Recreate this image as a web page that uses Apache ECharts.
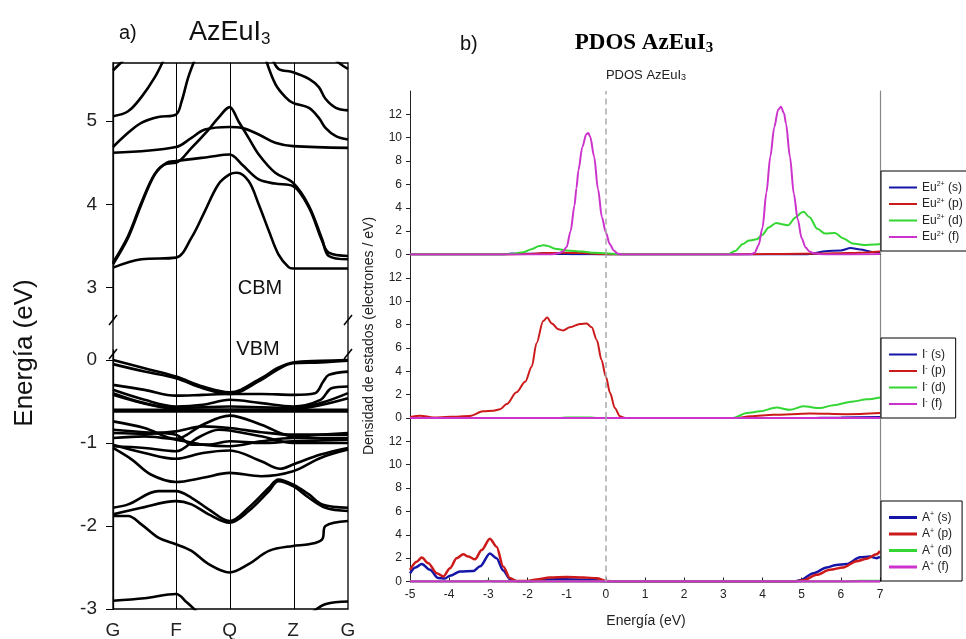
<!DOCTYPE html>
<html>
<head>
<meta charset="utf-8">
<script src="https://cdn.jsdelivr.net/npm/echarts@6/dist/echarts.min.js"></script>
<style>html,body{margin:0;padding:0;background:#fff;}#c{width:966px;height:639px;}</style>
</head>
<body>
<div id="c"></div>
<script>
// ---------- Band structure (left) ----------
const kNodes = [0, 0.268, 0.496, 0.766, 1];
const kLabels = ['G', 'F', 'Q', 'Z', 'G'];
const upperTicks = [3, 4, 5];
const lowerTicks = [-3, -2, -1, 0];
const upperRange = [2.61, 5.70];
const lowerRange = [-3, 0.12];

// [t, E] with t = path parameter (0=G,1=F,2=Q,3=Z,4=G)
const bandU1 = [[0,3.24],[0.45,3.34],[1,3.36],[1.29,3.60],[1.54,3.92],[1.79,4.24],[2,4.36],[2.116,4.38],[2.30,4.28],[2.46,4.0],[2.62,3.68],[2.77,3.40],[2.93,3.245],[3,3.23],[4,3.23]];
const bandU2 = [[0,3.28],[0.24,3.60],[0.45,4.0],[0.665,4.36],[0.85,4.50],[1,4.52],[1.61,4.57],[2,4.60],[2.195,4.48],[2.46,4.30],[2.72,4.25],[3,4.22],[3.29,3.96],[3.53,3.56],[3.65,3.42],[4,3.38]];
const bandU3 = [[0,3.30],[0.24,3.62],[0.45,4.02],[0.665,4.37],[0.85,4.49],[1,4.50],[1.29,4.68],[1.61,4.90],[1.79,5.04],[2,5.17],[2.14,5.0],[2.30,4.80],[2.46,4.60],[2.72,4.38],[3,4.26],[3.29,3.98],[3.53,3.58],[3.65,3.38],[4,3.34]];
const bandU4 = [[0,4.62],[1,4.69],[1.29,4.80],[1.54,4.90],[2,4.93],[2.195,4.92],[2.46,4.84],[2.72,4.74],[3,4.70],[4,4.68]];
const bandU5 = [[0,4.69],[0.24,4.86],[0.45,4.98],[0.72,5.05],[1,5.08],[1.106,5.24],[1.23,5.53],[1.37,5.77]];
const bandU6 = [[0,5.61],[0.08,5.67],[0.19,5.75]];
const bandU7 = [[0,5.06],[0.24,5.12],[0.45,5.29],[0.665,5.53],[0.80,5.73]];
const bandU8 = [[2.67,5.77],[2.77,5.63],[3,5.59],[3.29,5.51],[3.47,5.41],[3.59,5.27],[3.78,5.16],[4,5.13]];
const bandU9 = [[2.56,5.77],[2.72,5.45],[2.88,5.29],[3,5.22],[3.29,5.16],[3.47,5.04],[3.59,4.92],[3.78,4.82],[4,4.78]];
const bandU10 = [[3.78,5.73],[3.90,5.67],[4,5.63]];

const bandL1 = [[0,0],[0.5,-0.10],[1,-0.20],[1.5,-0.32],[2,-0.39],[2.5,-0.22],[2.75,-0.10],[3,-0.03],[3.5,-0.01],[4,0]];
const bandL2 = [[0,-0.05],[0.5,-0.14],[1,-0.22],[1.5,-0.34],[2,-0.41],[2.5,-0.24],[2.75,-0.12],[3,-0.04],[3.5,-0.03],[4,-0.01]];
const bandL3 = [[0,-0.30],[0.5,-0.36],[1,-0.43],[1.5,-0.42],[2,-0.41],[2.5,-0.41],[3,-0.42],[3.4,-0.40],[3.55,-0.26],[3.65,-0.18],[4,-0.14]];
const bandL4 = [[0,-0.36],[0.5,-0.48],[1,-0.56],[1.5,-0.54],[2,-0.48],[2.5,-0.52],[3,-0.56],[3.5,-0.48],[3.7,-0.34],[4,-0.32]];
const bandL5 = [[0,-0.40],[0.5,-0.52],[1,-0.58],[2,-0.56],[3,-0.58],[3.5,-0.52],[4,-0.40]];
const bandL6 = [[0,-0.42],[1,-0.59],[2,-0.60],[3,-0.59],[4,-0.46]];
const bandL7 = [[0,-0.60],[4,-0.60]];
const bandL8 = [[0,-0.62],[4,-0.62]];
const bandL9 = [[0,-0.74],[0.5,-0.82],[1,-0.95],[1.5,-0.78],[2,-0.67],[2.5,-0.78],[3,-0.92],[3.5,-0.90],[4,-0.88]];
const bandL10 = [[0,-0.88],[0.5,-0.89],[1,-0.86],[1.5,-0.80],[2,-0.82],[2.5,-0.87],[3,-0.90],[4,-0.90]];
const bandL11 = [[0,-0.94],[0.5,-0.92],[1,-0.96],[1.5,-1.02],[2,-1.04],[2.5,-0.98],[3,-0.94],[4,-0.94]];
const bandL12 = [[0,-1.02],[0.5,-1.12],[1,-1.19],[1.5,-1.12],[2,-1.09],[2.5,-1.22],[2.8,-1.31],[3,-1.26],[3.5,-1.14],[4,-1.06]];
const bandL13 = [[0,-0.84],[0.5,-0.87],[1,-0.90],[1.3,-1.02],[1.6,-1.02],[2,-0.98],[2.5,-1.0],[3,-0.98],[4,-0.96]];
const bandL14 = [[0,-1.04],[0.5,-1.06],[1,-1.10],[1.4,-0.94],[1.8,-0.84],[2,-0.85],[2.5,-0.92],[3,-1.0],[4,-1.0]];
const bandL15 = [[0,-1.06],[0.3,-1.20],[0.6,-1.38],[1,-1.47],[1.5,-1.42],[2,-1.36],[2.5,-1.40],[3,-1.34],[3.5,-1.18],[4,-1.08]];
const bandL16 = [[0,-1.78],[0.24,-1.74],[0.72,-1.58],[1,-1.58],[1.29,-1.66],[1.61,-1.80],[2,-1.94],[2.30,-1.78],[2.62,-1.54],[2.77,-1.44],[3,-1.50],[3.29,-1.62],[3.53,-1.74],[4,-1.78]];
const bandL17 = [[0,-1.86],[0.45,-1.78],[1,-1.70],[1.29,-1.74],[1.61,-1.86],[2,-1.96],[2.30,-1.82],[2.62,-1.58],[2.77,-1.46],[3,-1.52],[3.29,-1.66],[3.59,-1.78],[4,-1.82]];
const bandL18 = [[0,-1.88],[0.24,-1.88],[0.45,-1.98],[0.72,-2.14],[1,-2.22],[1.29,-2.30],[1.61,-2.46],[2,-2.56],[2.30,-2.46],[2.62,-2.30],[3,-2.24],[3.29,-2.22],[3.53,-2.16],[3.59,-2.0],[4,-1.94]];
const bandL19 = [[0,-2.90],[0.5,-2.87],[1,-2.82],[1.2,-2.92],[1.4,-3.04]];
const bandL20 = [[3.35,-3.04],[3.6,-2.94],[4,-2.91]];

const upperBands = [bandU1,bandU2,bandU3,bandU4,bandU5,bandU6,bandU7,bandU8,bandU9,bandU10];
const lowerBands = [bandL1,bandL2,bandL3,bandL4,bandL5,bandL6,bandL7,bandL8,bandL9,bandL10,bandL11,bandL12,bandL13,bandL14,bandL15,bandL16,bandL17,bandL18,bandL19,bandL20];

// ---------- PDOS (right) ----------
const pdosX = [-5, 7];
const pdosTicks = [0, 2, 4, 6, 8, 10, 12];
const pdosMax = 14;

const euS = [[-5,0],[-2.6,0],[-2.4,0.08],[-2.2,0.05],[-1.8,0.06],[-1.5,0.1],[-1.2,0.06],[-0.8,0.03],[0,0],[5.1,0],[5.3,0.1],[5.6,0.28],[6.0,0.35],[6.25,0.55],[6.5,0.42],[6.8,0.22],[7,0.2]];
const euP = [[-5,0],[-2.5,0],[-2,0.05],[-1.5,0.12],[-1.0,0.15],[-0.6,0.12],[-0.2,0.05],[0.2,0],[3.3,0],[3.8,0.03],[4.5,0.05],[5.5,0.08],[6.2,0.12],[6.7,0.18],[7,0.25]];
const euD = [[-5,0],[-2.6,0],[-2.4,0.05],[-2.1,0.2],[-1.9,0.45],[-1.7,0.72],[-1.6,0.8],[-1.5,0.75],[-1.3,0.5],[-1.0,0.35],[-0.6,0.25],[-0.3,0.15],[0,0.1],[0.3,0.03],[0.5,0],[3.1,0],[3.3,0.3],[3.5,0.9],[3.65,1.2],[3.85,1.3],[4.0,1.7],[4.15,2.3],[4.35,2.7],[4.5,2.6],[4.65,2.5],[4.85,3.2],[5.0,3.6],[5.05,3.65],[5.2,3.2],[5.4,2.2],[5.6,1.8],[5.85,1.85],[6.05,1.4],[6.3,0.95],[6.6,0.82],[6.85,0.85],[7,0.9]];
const euF = [[-5,0],[-1.4,0],[-1.3,0.05],[-1.2,0.12],[-1.1,0.25],[-1.0,0.65],[-0.9,2.0],[-0.8,4.2],[-0.75,5.7],[-0.7,7.2],[-0.6,9.2],[-0.5,10.3],[-0.45,10.4],[-0.4,10.1],[-0.3,8.4],[-0.2,5.6],[-0.1,3.2],[0,1.9],[0.1,0.9],[0.2,0.35],[0.3,0.08],[0.4,0],[3.6,0],[3.7,0.02],[3.8,0.15],[3.9,0.8],[4.0,2.3],[4.1,5.3],[4.2,8.4],[4.3,10.9],[4.4,12.4],[4.47,12.65],[4.55,12.1],[4.6,11.2],[4.7,8.4],[4.8,5.2],[4.9,3.0],[5.0,1.4],[5.1,0.6],[5.2,0.25],[5.3,0.1],[5.5,0.02],[5.7,0],[7,0.05]];

const iS = [[-5,0],[5,0],[6,0.05],[7,0.08]];
const iP = [[-5,0.08],[-4.74,0.2],[-4.4,0.05],[-3.98,0.1],[-3.47,0.17],[-3.13,0.57],[-2.87,0.62],[-2.7,0.75],[-2.53,1.2],[-2.28,2.2],[-2.06,3.1],[-1.89,4.4],[-1.77,6.4],[-1.6,8.3],[-1.5,8.6],[-1.38,8.1],[-1.21,7.6],[-1.09,7.5],[-0.92,7.76],[-0.66,8.05],[-0.49,8.1],[-0.36,7.76],[-0.23,6.68],[-0.11,4.97],[0,3.55],[0.11,2.13],[0.23,0.85],[0.36,0.15],[0.49,0],[3.3,0],[3.7,0.15],[4.28,0.28],[5.21,0.38],[6.15,0.33],[7,0.43]];
const iD = [[-5,0],[-1.2,0],[-1.0,0.05],[-0.4,0.05],[-0.2,0],[3.25,0],[3.6,0.43],[3.94,0.57],[4.36,0.9],[4.7,0.7],[5.04,1.0],[5.47,0.85],[5.81,1.1],[6.32,1.42],[6.66,1.6],[7,1.76]];
const iF = [[-5,0],[7,0]];

const aS = [[-5,0.7],[-4.86,1.2],[-4.7,1.5],[-4.49,1.0],[-4.28,0.3],[-4.11,0.25],[-3.98,0.5],[-3.72,0.85],[-3.38,0.9],[-3.21,1.3],[-2.96,2.4],[-2.79,2.0],[-2.62,0.95],[-2.45,0.2],[-2.28,0.02],[-2.0,0],[-1.7,0.1],[-1.3,0.2],[-0.8,0.18],[-0.3,0.12],[0,0],[4.8,0],[4.96,0.1],[5.3,0.71],[5.64,1.2],[5.89,1.42],[6.15,1.5],[6.49,2.07],[6.74,2.13],[6.91,2.0],[7,2.1]];
const aP = [[-5,1.0],[-4.83,1.7],[-4.7,2.05],[-4.53,1.56],[-4.32,0.71],[-4.15,0.43],[-3.98,1.14],[-3.81,2.0],[-3.64,2.33],[-3.51,2.13],[-3.34,1.9],[-3.17,2.7],[-2.96,3.66],[-2.79,2.98],[-2.62,1.28],[-2.45,0.29],[-2.28,0.05],[-2.0,0.05],[-1.77,0.18],[-1.43,0.35],[-1.0,0.38],[-0.57,0.35],[-0.23,0.27],[0.02,0.05],[0.3,0],[4.8,0],[5.04,0.1],[5.38,0.57],[5.72,1.0],[6.06,1.2],[6.4,1.74],[6.66,1.95],[6.91,2.33],[7,2.6]];
const aD = [[-5,0],[-3.2,0],[-3,0.05],[-2.8,0],[6,0],[6.5,0.05],[7,0.05]];
const aF = [[-5,0],[7,0]];

const euNames = ['Eu^2+ (s)','Eu^2+ (p)','Eu^2+ (d)','Eu^2+ (f)'];
const iNames = ['I^- (s)','I^- (p)','I^- (d)','I^- (f)'];
const aNames = ['A^+ (s)','A^+ (p)','A^+ (d)','A^+ (f)'];
const orbColors = ['#1515a8','#cc1a1a','#33d633','#cc33cc'];

// ---------- build ----------
const FONT = 'Liberation Sans, Arial, Helvetica, sans-serif';
function tToK(t){ const i = Math.min(3, Math.floor(t)); return kNodes[i] + (t - i) * (kNodes[i+1] - kNodes[i]); }
function bandSeries(b, xi, yi){
  return { type:'line', xAxisIndex:xi, yAxisIndex:yi, data:b.map(p=>[tToK(p[0]), p[1]]),
    symbol:'none', smooth:0.35, clip:true, silent:true,
    lineStyle:{color:'#000', width:2.6} };
}
function pdosSeries(name, data, color, xi, yi, w){
  return { name:name, type:'line', xAxisIndex:xi, yAxisIndex:yi, data:data, symbol:'none', showSymbol:false,
    smooth:0.3, smoothMonotone:'x', clip:true, silent:true, color:color,
    lineStyle:{color:color, width:w} };
}
const zeroLine = { silent:true, symbol:['none','none'], label:{show:false},
  lineStyle:{color:'#aaaaaa', type:[6,4], width:1.5}, data:[{xAxis:0}] };

const series = [];
series.push({ type:'line', xAxisIndex:0, yAxisIndex:0, data:[], silent:true,
  markLine:{ silent:true, symbol:['none','none'], label:{show:false},
    lineStyle:{color:'#000', width:1, type:'solid'},
    data:kNodes.slice(1,4).map(k=>({xAxis:k})) } });
upperBands.forEach(b=>series.push(bandSeries(b,1,1)));
lowerBands.forEach(b=>series.push(bandSeries(b,2,2)));

const panels = [
  {names:euNames, data:[euS,euP,euD,euF], xi:3, yi:3, w:2},
  {names:iNames, data:[iS,iP,iD,iF], xi:5, yi:5, w:2},
  {names:aNames, data:[aS,aP,aD,aF], xi:6, yi:7, w:2.5}
];
panels.forEach(p=>{
  p.data.forEach((d,i)=>{
    const s = pdosSeries(p.names[i], d, orbColors[i], p.xi, p.yi, p.w);
    if (i===0) s.markLine = zeroLine;
    series.push(s);
  });
});

function legendFmt(name){
  const m = name.match(/^([A-Za-z]+)\^(\S+) (.*)$/);
  return '{n|' + m[1] + '}{sup|' + m[2] + '}{n| ' + m[3] + '}';
}
function makeLegend(names, top, lh){
  return { orient:'vertical', left:881, top:top, data:names, selectedMode:false,
    icon:'rect', itemWidth:28, itemHeight:lh, itemGap:4, padding:[10,10,8,8],
    borderColor:'#000', borderWidth:1, backgroundColor:'#fff',
    formatter:legendFmt,
    textStyle:{fontFamily:FONT, fontSize:12, color:'#222',
      rich:{ n:{fontFamily:FONT, fontSize:12, lineHeight:13, color:'#222'},
             sup:{fontFamily:FONT, fontSize:7, lineHeight:7, verticalAlign:'top', color:'#222'} } } };
}

const pdosGridH = 163.5;
const grids = [
  {left:113, top:63, width:235, height:546, show:true, borderColor:'#000', borderWidth:1.3, outerBoundsMode:'none'},
  {left:113, top:63, width:235, height:257, outerBoundsMode:'none'},
  {left:113, top:350, width:235, height:259, outerBoundsMode:'none'},
  {left:410, top:91, width:470, height:pdosGridH, outerBoundsMode:'none'},
  {left:410, top:91+pdosGridH, width:470, height:pdosGridH, outerBoundsMode:'none'},
  {left:410, top:91+2*pdosGridH, width:470, height:pdosGridH, outerBoundsMode:'none'}
];

const hiddenX = (gi)=>({ type:'value', gridIndex:gi, min:0, max:1, show:false });
const xAxes = [
  { type:'value', gridIndex:0, min:0, max:1, axisLine:{show:false}, axisTick:{show:false}, splitLine:{show:false},
    axisLabel:{ customValues:kNodes, fontFamily:FONT, fontSize:19, color:'#222', margin:12,
      formatter:(v)=>{ const i = kNodes.findIndex(k=>Math.abs(k-v)<1e-6); return i>=0 ? kLabels[i] : ''; } } },
  hiddenX(1), hiddenX(2),
  { type:'value', gridIndex:3, min:pdosX[0], max:pdosX[1], show:false },
  { type:'value', gridIndex:3, min:pdosX[0], max:pdosX[1], position:'top',
    axisLine:{show:true, lineStyle:{color:'#222', width:1}}, axisTick:{show:false}, axisLabel:{show:false}, splitLine:{show:false} },
  { type:'value', gridIndex:4, min:pdosX[0], max:pdosX[1], show:false },
  { type:'value', gridIndex:5, min:pdosX[0], max:pdosX[1], interval:1,
    axisLine:{show:true, onZero:false, lineStyle:{color:'#222', width:1}},
    axisTick:{show:true, inside:true, length:4, lineStyle:{color:'#222'}},
    axisLabel:{fontFamily:FONT, fontSize:12, color:'#222', margin:7}, splitLine:{show:false} }
];

function bandY(gi, range, ticks){
  return { type:'value', gridIndex:gi, min:range[0], max:range[1],
    axisLine:{show:true, onZero:false, lineStyle:{color:'#000', width:1.3}},
    axisTick:{show:true, inside:false, length:7, customValues:ticks, lineStyle:{color:'#000', width:1}},
    axisLabel:{customValues:ticks, fontFamily:FONT, fontSize:19, color:'#222', margin:16},
    splitLine:{show:false} };
}
function pdosYLeft(gi){
  return { type:'value', gridIndex:gi, min:0, max:pdosMax, position:'left',
    axisLine:{show:true, onZero:false, lineStyle:{color:'#222', width:1}},
    axisTick:{show:true, inside:false, length:4, customValues:pdosTicks, lineStyle:{color:'#222'}},
    axisLabel:{customValues:pdosTicks, fontFamily:FONT, fontSize:12, color:'#222', margin:8},
    splitLine:{show:false} };
}
function pdosYRight(gi){
  return { type:'value', gridIndex:gi, min:0, max:pdosMax, position:'right',
    axisLine:{show:true, onZero:false, lineStyle:{color:'#888', width:1.2}},
    axisTick:{show:false}, axisLabel:{show:false}, splitLine:{show:false} };
}
const yAxes = [
  { type:'value', gridIndex:0, min:0, max:1, show:false },
  bandY(1, upperRange, upperTicks),
  bandY(2, lowerRange, lowerTicks),
  pdosYLeft(3), pdosYRight(3),
  pdosYLeft(4), pdosYRight(4),
  pdosYLeft(5), pdosYRight(5)
];

function brk(x, y){ return { type:'line', silent:true, shape:{x1:x-4, y1:y+5, x2:x+4, y2:y-5}, style:{stroke:'#000', lineWidth:1.5} }; }

const graphic = [
  { type:'text', silent:true, style:{ text:'a)', x:119, y:33, fontFamily:FONT, fontSize:20, fill:'#111', align:'left', verticalAlign:'middle' } },
  { type:'text', silent:true, style:{ text:'{m|AzEuI}{s|3}', x:189, y:33, align:'left', verticalAlign:'middle', fill:'#111',
      rich:{ m:{fontFamily:FONT, fontSize:27, lineHeight:30, fill:'#111'}, s:{fontFamily:FONT, fontSize:17, lineHeight:12, verticalAlign:'bottom', fill:'#111'} } } },
  { type:'text', silent:true, rotation:Math.PI/2, x:25, y:353, style:{ text:'Energía (eV)', x:0, y:0, fontFamily:FONT, fontSize:26, fill:'#111', align:'center', verticalAlign:'middle' } },
  { type:'text', silent:true, style:{ text:'CBM', x:260, y:288, fontFamily:FONT, fontSize:20, fill:'#111', align:'center', verticalAlign:'middle' } },
  { type:'text', silent:true, style:{ text:'VBM', x:258, y:349, fontFamily:FONT, fontSize:20, fill:'#111', align:'center', verticalAlign:'middle' } },
  brk(113, 320), brk(113, 354), brk(348, 320), brk(348, 354),
  { type:'text', silent:true, style:{ text:'b)', x:460, y:44, fontFamily:FONT, fontSize:20, fill:'#111', align:'left', verticalAlign:'middle' } },
  { type:'text', silent:true, style:{ text:'{m|PDOS AzEuI}{s|3}', x:644, y:43, align:'center', verticalAlign:'middle',
      rich:{ m:{fontFamily:'Liberation Serif, Times New Roman, serif', fontWeight:'bold', fontSize:23, lineHeight:26, fill:'#000'},
             s:{fontFamily:'Liberation Serif, Times New Roman, serif', fontWeight:'bold', fontSize:15, lineHeight:12, verticalAlign:'bottom', fill:'#000'} } } },
  { type:'text', silent:true, style:{ text:'{m|PDOS AzEuI}{s|3}', x:646, y:75, align:'center', verticalAlign:'middle',
      rich:{ m:{fontFamily:FONT, fontSize:13, lineHeight:15, fill:'#222'}, s:{fontFamily:FONT, fontSize:9, lineHeight:7, verticalAlign:'bottom', fill:'#222'} } } },
  { type:'text', silent:true, rotation:Math.PI/2, x:369, y:336, style:{ text:'Densidad de estados (electrones / eV)', x:0, y:0, fontFamily:FONT, fontSize:14, fill:'#222', align:'center', verticalAlign:'middle' } },
  { type:'text', silent:true, style:{ text:'Energía (eV)', x:646, y:621, fontFamily:FONT, fontSize:14, fill:'#222', align:'center', verticalAlign:'middle' } }
];

const chart = echarts.init(document.getElementById('c'), null, {renderer:'canvas'});
chart.setOption({
  backgroundColor:'#fff',
  animation:false,
  grid:grids,
  xAxis:xAxes,
  yAxis:yAxes,
  legend:[ makeLegend(euNames,171,2), makeLegend(iNames,338,2), makeLegend(aNames,501,3) ],
  series:series,
  graphic:graphic
});
</script>
</body>
</html>
